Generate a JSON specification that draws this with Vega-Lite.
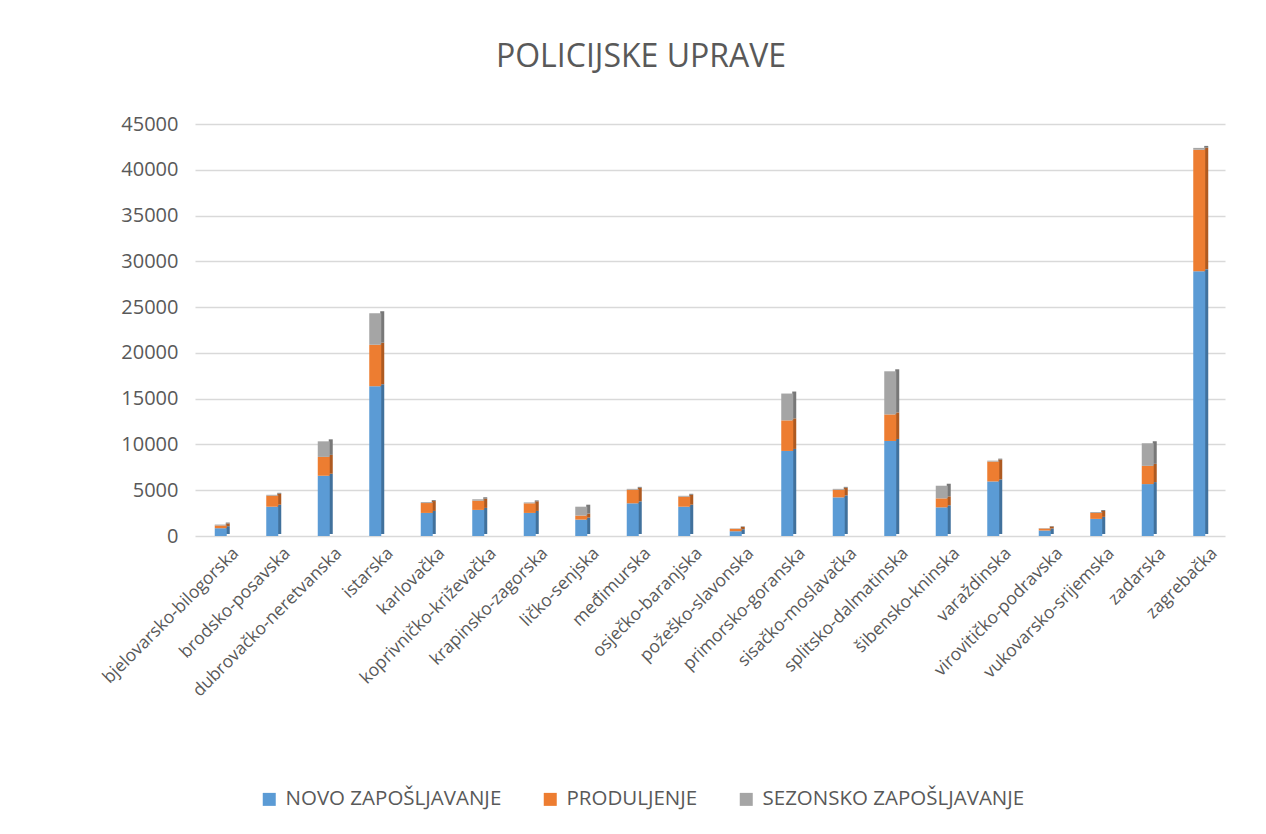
{
  "$schema": "https://vega.github.io/schema/vega-lite/v6.json",
  "width": 1030,
  "height": 412,
  "autosize": {"type": "none"},
  "padding": {"left": 195, "top": 124, "right": 41, "bottom": 298},
  "background": "white",
  "config": {
    "font": "Open Sans",
    "view": {"stroke": null},
    "axis": {"labelColor": "#595959", "labelFont": "Open Sans"}
  },
  "title": {
    "text": "POLICIJSKE UPRAVE",
    "fontSize": 32,
    "fontWeight": "normal",
    "color": "#595959",
    "font": "Open Sans",
    "anchor": "middle",
    "dx": -69,
    "offset": 40
  },
  "data": {
    "values": [
      {"uprava": "bjelovarsko-bilogorska", "vrsta": "NOVO ZAPOŠLJAVANJE", "broj": 850},
      {"uprava": "bjelovarsko-bilogorska", "vrsta": "PRODULJENJE", "broj": 300},
      {"uprava": "bjelovarsko-bilogorska", "vrsta": "SEZONSKO ZAPOŠLJAVANJE", "broj": 100},
      {"uprava": "brodsko-posavska", "vrsta": "NOVO ZAPOŠLJAVANJE", "broj": 3200},
      {"uprava": "brodsko-posavska", "vrsta": "PRODULJENJE", "broj": 1200},
      {"uprava": "brodsko-posavska", "vrsta": "SEZONSKO ZAPOŠLJAVANJE", "broj": 100},
      {"uprava": "dubrovačko-neretvanska", "vrsta": "NOVO ZAPOŠLJAVANJE", "broj": 6580},
      {"uprava": "dubrovačko-neretvanska", "vrsta": "PRODULJENJE", "broj": 2060},
      {"uprava": "dubrovačko-neretvanska", "vrsta": "SEZONSKO ZAPOŠLJAVANJE", "broj": 1700},
      {"uprava": "istarska", "vrsta": "NOVO ZAPOŠLJAVANJE", "broj": 16360},
      {"uprava": "istarska", "vrsta": "PRODULJENJE", "broj": 4530},
      {"uprava": "istarska", "vrsta": "SEZONSKO ZAPOŠLJAVANJE", "broj": 3440},
      {"uprava": "karlovačka", "vrsta": "NOVO ZAPOŠLJAVANJE", "broj": 2520},
      {"uprava": "karlovačka", "vrsta": "PRODULJENJE", "broj": 1080},
      {"uprava": "karlovačka", "vrsta": "SEZONSKO ZAPOŠLJAVANJE", "broj": 100},
      {"uprava": "koprivničko-križevačka", "vrsta": "NOVO ZAPOŠLJAVANJE", "broj": 2850},
      {"uprava": "koprivničko-križevačka", "vrsta": "PRODULJENJE", "broj": 1010},
      {"uprava": "koprivničko-križevačka", "vrsta": "SEZONSKO ZAPOŠLJAVANJE", "broj": 150},
      {"uprava": "krapinsko-zagorska", "vrsta": "NOVO ZAPOŠLJAVANJE", "broj": 2520},
      {"uprava": "krapinsko-zagorska", "vrsta": "PRODULJENJE", "broj": 1050},
      {"uprava": "krapinsko-zagorska", "vrsta": "SEZONSKO ZAPOŠLJAVANJE", "broj": 100},
      {"uprava": "ličko-senjska", "vrsta": "NOVO ZAPOŠLJAVANJE", "broj": 1790},
      {"uprava": "ličko-senjska", "vrsta": "PRODULJENJE", "broj": 440},
      {"uprava": "ličko-senjska", "vrsta": "SEZONSKO ZAPOŠLJAVANJE", "broj": 970},
      {"uprava": "međimurska", "vrsta": "NOVO ZAPOŠLJAVANJE", "broj": 3570},
      {"uprava": "međimurska", "vrsta": "PRODULJENJE", "broj": 1480},
      {"uprava": "međimurska", "vrsta": "SEZONSKO ZAPOŠLJAVANJE", "broj": 100},
      {"uprava": "osječko-baranjska", "vrsta": "NOVO ZAPOŠLJAVANJE", "broj": 3200},
      {"uprava": "osječko-baranjska", "vrsta": "PRODULJENJE", "broj": 1090},
      {"uprava": "osječko-baranjska", "vrsta": "SEZONSKO ZAPOŠLJAVANJE", "broj": 100},
      {"uprava": "požeško-slavonska", "vrsta": "NOVO ZAPOŠLJAVANJE", "broj": 520},
      {"uprava": "požeško-slavonska", "vrsta": "PRODULJENJE", "broj": 260},
      {"uprava": "požeško-slavonska", "vrsta": "SEZONSKO ZAPOŠLJAVANJE", "broj": 50},
      {"uprava": "primorsko-goranska", "vrsta": "NOVO ZAPOŠLJAVANJE", "broj": 9290},
      {"uprava": "primorsko-goranska", "vrsta": "PRODULJENJE", "broj": 3340},
      {"uprava": "primorsko-goranska", "vrsta": "SEZONSKO ZAPOŠLJAVANJE", "broj": 2930},
      {"uprava": "sisačko-moslavačka", "vrsta": "NOVO ZAPOŠLJAVANJE", "broj": 4220},
      {"uprava": "sisačko-moslavačka", "vrsta": "PRODULJENJE", "broj": 830},
      {"uprava": "sisačko-moslavačka", "vrsta": "SEZONSKO ZAPOŠLJAVANJE", "broj": 100},
      {"uprava": "splitsko-dalmatinska", "vrsta": "NOVO ZAPOŠLJAVANJE", "broj": 10380},
      {"uprava": "splitsko-dalmatinska", "vrsta": "PRODULJENJE", "broj": 2900},
      {"uprava": "splitsko-dalmatinska", "vrsta": "SEZONSKO ZAPOŠLJAVANJE", "broj": 4710},
      {"uprava": "šibensko-kninska", "vrsta": "NOVO ZAPOŠLJAVANJE", "broj": 3130},
      {"uprava": "šibensko-kninska", "vrsta": "PRODULJENJE", "broj": 980},
      {"uprava": "šibensko-kninska", "vrsta": "SEZONSKO ZAPOŠLJAVANJE", "broj": 1380},
      {"uprava": "varaždinska", "vrsta": "NOVO ZAPOŠLJAVANJE", "broj": 5960},
      {"uprava": "varaždinska", "vrsta": "PRODULJENJE", "broj": 2170},
      {"uprava": "varaždinska", "vrsta": "SEZONSKO ZAPOŠLJAVANJE", "broj": 100},
      {"uprava": "virovitičko-podravska", "vrsta": "NOVO ZAPOŠLJAVANJE", "broj": 600},
      {"uprava": "virovitičko-podravska", "vrsta": "PRODULJENJE", "broj": 215},
      {"uprava": "virovitičko-podravska", "vrsta": "SEZONSKO ZAPOŠLJAVANJE", "broj": 50},
      {"uprava": "vukovarsko-srijemska", "vrsta": "NOVO ZAPOŠLJAVANJE", "broj": 1870},
      {"uprava": "vukovarsko-srijemska", "vrsta": "PRODULJENJE", "broj": 650},
      {"uprava": "vukovarsko-srijemska", "vrsta": "SEZONSKO ZAPOŠLJAVANJE", "broj": 100},
      {"uprava": "zadarska", "vrsta": "NOVO ZAPOŠLJAVANJE", "broj": 5670},
      {"uprava": "zadarska", "vrsta": "PRODULJENJE", "broj": 1990},
      {"uprava": "zadarska", "vrsta": "SEZONSKO ZAPOŠLJAVANJE", "broj": 2470},
      {"uprava": "zagrebačka", "vrsta": "NOVO ZAPOŠLJAVANJE", "broj": 28930},
      {"uprava": "zagrebačka", "vrsta": "PRODULJENJE", "broj": 13260},
      {"uprava": "zagrebačka", "vrsta": "SEZONSKO ZAPOŠLJAVANJE", "broj": 200}
    ]
  },
  "encoding": {
    "x": {
      "field": "uprava",
      "type": "nominal",
      "sort": null,
      "scale": {"paddingOuter": 0, "paddingInner": 0},
      "axis": {
        "title": null,
        "labelAngle": -45,
        "labelFontSize": 17.5,
        "labelPadding": 8,
        "labelOffset": 9,
        "labelLimit": 400,
        "ticks": false,
        "domain": false,
        "grid": false
      }
    },
    "y": {
      "field": "broj",
      "type": "quantitative",
      "stack": "zero",
      "scale": {"domain": [0, 45000], "nice": false},
      "axis": {
        "title": null,
        "values": [0, 5000, 10000, 15000, 20000, 25000, 30000, 35000, 40000, 45000],
        "format": "d",
        "labelFontSize": 20,
        "labelPadding": 17,
        "ticks": false,
        "domain": false,
        "gridColor": "#d9d9d9",
        "gridWidth": 1.5
      }
    },
    "order": {"field": "vrsta", "sort": "ascending"}
  },
  "layer": [
    {
      "mark": {"type": "bar", "size": 4, "xOffset": 7, "yOffset": -2},
      "encoding": {
        "color": {
          "field": "vrsta",
          "type": "nominal",
          "scale": {
            "domain": ["NOVO ZAPOŠLJAVANJE", "PRODULJENJE", "SEZONSKO ZAPOŠLJAVANJE"],
            "range": ["#41719C", "#AE5A21", "#787878"]
          },
          "legend": null
        }
      }
    },
    {
      "mark": {"type": "bar", "size": 12},
      "encoding": {
        "color": {
          "field": "vrsta",
          "type": "nominal",
          "scale": {
            "domain": ["NOVO ZAPOŠLJAVANJE", "PRODULJENJE", "SEZONSKO ZAPOŠLJAVANJE"],
            "range": ["#5B9BD5", "#ED7D31", "#A5A5A5"]
          },
          "legend": {
            "title": null,
            "orient": "none",
            "direction": "horizontal",
            "legendX": 64,
            "legendY": 665,
            "symbolType": "square",
            "symbolSize": 169,
            "symbolStrokeWidth": 0,
            "labelFontSize": 20.5,
            "labelColor": "#595959",
            "labelOffset": 6,
            "columnPadding": 38,
            "labelLimit": 400
          }
        }
      }
    }
  ],
  "resolve": {"scale": {"color": "independent"}}
}
